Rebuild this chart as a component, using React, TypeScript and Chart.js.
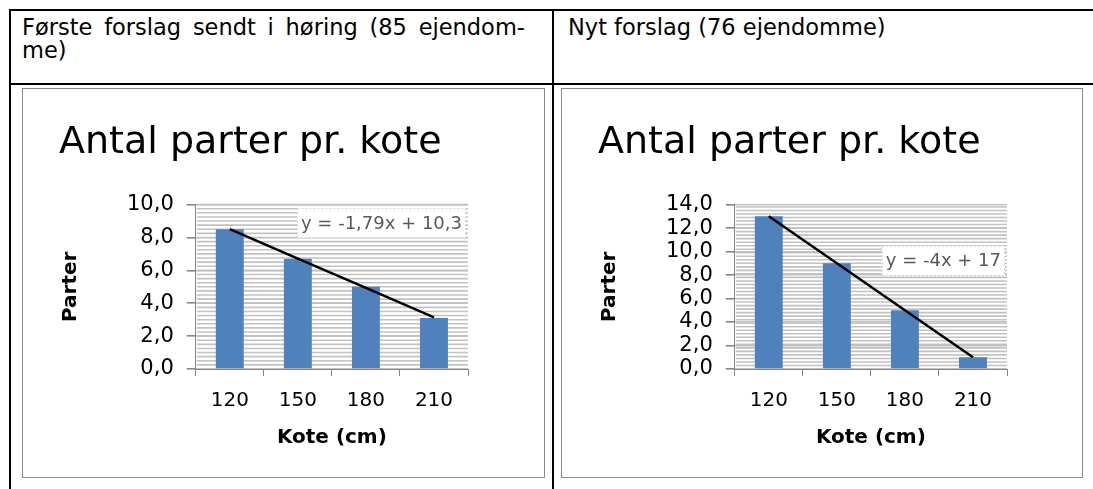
import React, { useEffect, useRef } from 'react';
import { Chart, registerables } from 'chart.js';

Chart.register(...registerables);

// ---- data ----
const categories = ['120', '150', '180', '210'];
const firstValues = [8.5, 6.7, 5.0, 3.1];
const firstTrend = [8.51, 6.72, 4.93, 3.14];
const newValues = [13, 9, 5, 1];
const newTrend = [13, 9, 5, 1];
const firstEquation = 'y = -1,79x + 10,3';
const newEquation = 'y = -4x + 17';
const chartTitle = 'Antal parter pr. kote';
const xTitle = 'Kote (cm)';
const yTitle = 'Parter';
const firstHeaderLine1 = ['Første', 'forslag', 'sendt', 'i', 'høring', '(85', 'ejendom-'];
const firstHeaderLine2 = 'me)';
const newHeader = 'Nyt forslag (76 ejendomme)';

const FONT = '"DejaVu Sans", sans-serif';

const minorGrid = {
  id: 'minorGrid',
  beforeDatasetsDraw(chart: any, _args: any, opts: any) {
    const { ctx, chartArea: a, scales } = chart;
    const y = scales.y;
    ctx.save();
    ctx.strokeStyle = opts.color;
    ctx.lineWidth = opts.width;
    for (let i = 1; ; i++) {
      const v = i * opts.step;
      if (v > y.max + 1e-9) break;
      const py = y.getPixelForValue(v);
      ctx.beginPath();
      ctx.moveTo(a.left + 1, py);
      ctx.lineTo(a.right, py);
      ctx.stroke();
    }
    ctx.restore();
  },
};

const equationLabel = {
  id: 'equationLabel',
  afterDatasetsDraw(chart: any, _args: any, opts: any) {
    if (!opts || !opts.text) return;
    const { ctx, chartArea: a, scales } = chart;
    const y = scales.y;
    ctx.save();
    ctx.font = `18px ${FONT}`;
    const tw = ctx.measureText(opts.text).width;
    const w = tw + 8;
    const h = 30;
    const right = a.right - 2;
    const top = y.getPixelForValue(opts.topValue);
    ctx.fillStyle = '#ffffff';
    ctx.fillRect(right - w, top, w, h);
    ctx.strokeStyle = '#d0d0d0';
    ctx.setLineDash([2, 2]);
    ctx.lineWidth = 1;
    ctx.strokeRect(right - w + 0.5, top + 0.5, w - 1, h - 1);
    ctx.setLineDash([]);
    ctx.fillStyle = '#595959';
    ctx.textAlign = 'center';
    ctx.textBaseline = 'middle';
    ctx.fillText(opts.text, right - w / 2, top + h / 2 + 1);
    ctx.restore();
  },
};

type Props = {
  values: number[];
  trend: number[];
  yMax: number;
  minorStep: number;
  equation: string;
  eqTop: number;
};

function KoteChart({ values, trend, yMax, minorStep, equation, eqTop }: Props) {
  const ref = useRef<HTMLCanvasElement | null>(null);
  useEffect(() => {
    if (!ref.current) return;
    const chart = new Chart(ref.current, {
      type: 'bar',
      data: {
        labels: categories,
        datasets: [
          {
            type: 'line',
            data: trend,
            borderColor: '#000000',
            borderWidth: 2.5,
            pointRadius: 0,
            tension: 0,
            order: 0,
          } as any,
          {
            type: 'bar',
            data: values,
            backgroundColor: '#4F81BD',
            barPercentage: 0.41,
            categoryPercentage: 1,
            order: 1,
          } as any,
        ],
      },
      options: {
        responsive: false,
        animation: false,
        layout: { padding: { left: 36, right: 76, top: 0, bottom: 27 } },
        plugins: {
          legend: { display: false },
          tooltip: { enabled: false },
          title: {
            display: true,
            text: chartTitle,
            align: 'start',
            color: '#000000',
            font: { family: FONT, size: 38, weight: 'normal' },
            padding: { top: 31, bottom: 39 },
          },
          minorGrid: { step: minorStep, color: '#c2c2c2', width: 1.6 },
          equationLabel: { text: equation, topValue: eqTop },
        } as any,
        scales: {
          x: {
            offset: true,
            grid: {
              offset: true,
              drawOnChartArea: false,
              tickLength: 7,
              tickColor: '#868686',
            },
            border: { color: '#868686', width: 1 },
            ticks: {
              color: '#000000',
              padding: 13,
              font: { family: FONT, size: 20 },
            },
            title: {
              display: true,
              text: xTitle,
              color: '#000000',
              font: { family: FONT, size: 20, weight: 'bold' },
              padding: { top: 0, bottom: 0 },
            },
          },
          y: {
            min: 0,
            max: yMax,
            grid: {
              color: '#c2c2c2',
              lineWidth: 1.6,
              tickLength: 9,
              tickColor: '#868686',
            },
            border: { color: '#868686', width: 1 },
            ticks: {
              stepSize: 2,
              autoSkip: false,
              color: '#000000',
              padding: 13,
              font: { family: FONT, size: 21 },
              callback: (v: any) => Number(v).toFixed(1).replace('.', ','),
            },
            title: {
              display: true,
              text: yTitle,
              color: '#000000',
              font: { family: FONT, size: 20, weight: 'bold' },
              padding: { top: 0, bottom: 31 },
            },
          },
        },
      },
      plugins: [minorGrid, equationLabel],
    });
    return () => chart.destroy();
  }, [values, trend, yMax, minorStep, equation, eqTop]);
  return <canvas ref={ref} width={521} height={388} style={{ display: 'block', width: 521, height: 388 }} />;
}

const line = (l: number, t: number, w: number, h: number) => (
  <div style={{ position: 'absolute', left: l, top: t, width: w, height: h, background: '#000' }} />
);

export default function App() {
  const headerStyle: React.CSSProperties = {
    position: 'absolute',
    fontFamily: FONT,
    fontSize: 22.5,
    lineHeight: '24px',
    color: '#000',
    whiteSpace: 'nowrap',
  };
  return (
    <div
      style={{
        position: 'absolute',
        left: 0,
        top: 0,
        width: 1093,
        height: 489,
        overflow: 'hidden',
        background: '#fff',
      }}
    >
      {line(9, 9, 1084, 2)}
      {line(9, 9, 2, 480)}
      {line(552, 9, 2, 480)}
      {line(9, 83, 1084, 2)}

      <div
        style={{
          ...headerStyle,
          left: 22,
          top: 15,
          width: 503,
          display: 'flex',
          justifyContent: 'space-between',
        }}
      >
        {firstHeaderLine1.map((w, i) => (
          <span key={i}>{w}</span>
        ))}
      </div>
      <div style={{ ...headerStyle, left: 22, top: 38 }}>{firstHeaderLine2}</div>
      <div style={{ ...headerStyle, left: 568, top: 15 }}>{newHeader}</div>

      <div
        style={{
          position: 'absolute',
          left: 22,
          top: 88,
          width: 523,
          height: 390,
          border: '1px solid #8a8a8a',
          boxSizing: 'border-box',
          overflow: 'hidden',
        }}
      >
        <KoteChart values={firstValues} trend={firstTrend} yMax={10} minorStep={0.25} equation={firstEquation} eqTop={9.8} />
      </div>
      <div
        style={{
          position: 'absolute',
          left: 561,
          top: 88,
          width: 522,
          height: 390,
          border: '1px solid #8a8a8a',
          boxSizing: 'border-box',
          overflow: 'hidden',
        }}
      >
        <KoteChart values={newValues} trend={newTrend} yMax={14} minorStep={0.3} equation={newEquation} eqTop={10.5} />
      </div>
    </div>
  );
}
